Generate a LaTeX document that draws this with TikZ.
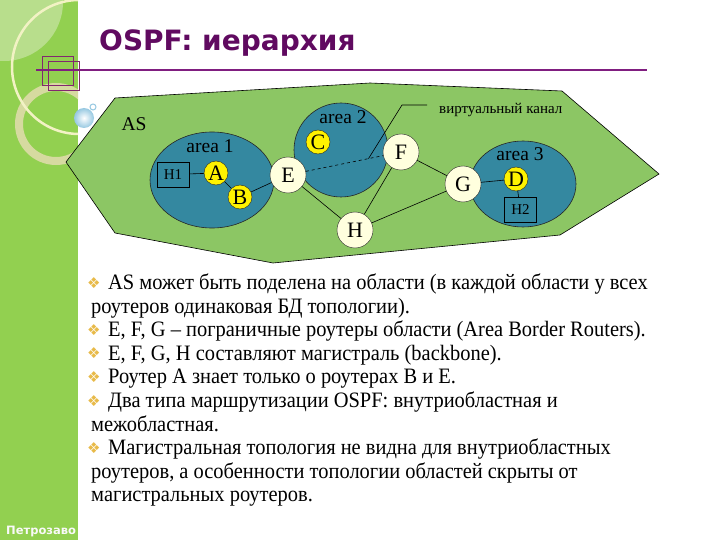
\documentclass[tikz,border=0pt]{standalone}
\usepackage{fontspec}
\setmainfont{Liberation Serif}
\newfontfamily\dejavu{DejaVu Sans}
\newfontfamily\bodyfont[FakeStretch=0.93]{Liberation Serif}
\definecolor{barg}{RGB}{146,208,80}
\definecolor{lightg}{RGB}{184,222,140}
\definecolor{ringc}{RGB}{214,218,160}
\definecolor{circc}{RGB}{242,242,196}
\definecolor{asg}{RGB}{140,198,100}
\definecolor{areac}{RGB}{52,136,160}
\definecolor{paley}{RGB}{255,255,222}
\definecolor{titlec}{RGB}{96,10,96}
\definecolor{purp}{RGB}{128,30,128}
\definecolor{sqc}{RGB}{130,40,110}
\definecolor{bulc}{RGB}{232,186,72}
\definecolor{bubc}{RGB}{150,200,225}
\newcommand\mybul{{\dejavu\color{bulc}\fontsize{15}{15}\selectfont ❖}}
\tikzset{
  rtr/.style={circle, draw=black!85, fill=yellow, minimum size=24pt, inner sep=0pt, font=\fontsize{22}{22}\selectfont},
  brd/.style={circle, draw=black!85, fill=paley, minimum size=36pt, inner sep=0pt, font=\fontsize{22}{22}\selectfont},
  hostbox/.style={rectangle, draw=black, minimum width=32pt, minimum height=25pt, inner sep=0pt, font=\fontsize{15}{15}\selectfont},
  lbl/.style={anchor=base, inner sep=0pt, font=\fontsize{19.5}{20}\selectfont},
  link/.style={draw=black, line width=0.6pt},
  txt/.style={anchor=base west, inner sep=0pt, font=\bodyfont\fontsize{22}{22}\selectfont},
  bul/.style={anchor=base west, inner sep=0pt}
}
\begin{document}
\begin{tikzpicture}[x=1pt,y=-1pt]
\useasboundingbox (0,0) rectangle (720,540);
\fill[white] (0,0) rectangle (720,540);
% left bar with decorations
\fill[barg] (0,0) rectangle (78,540);
\begin{scope}
  \clip (0,0) rectangle (78,540);
  \fill[lightg] (4,2) circle (59);
  \draw[ringc, line width=8pt] (56,124) circle (37);
  \draw[circc, line width=2.5pt] (79,67) circle (67);
  \node[anchor=base west, inner sep=0pt, text=white!95!gray, font=\dejavu\bfseries\fontsize{11.5}{12}\selectfont] (foot) at (6,534) {Петрозаво};
\end{scope}
% title
\node[anchor=base west, inner sep=0pt, text=titlec, font=\dejavu\bfseries\fontsize{28}{30}\selectfont] (title) at (99,51) {OSPF: иерархия};
\draw[purp, line width=2pt] (36,70) -- (647,70);
\draw[sqc, line width=1pt] (42,57) rectangle (73,86);
\draw[sqc, line width=1pt] (48,62) rectangle (79,91);
% bubbles
\draw[bubc, line width=1pt] (93,107) circle (3);
\shade[inner color=white, outer color=bubc] (84,118) circle (10);
% AS polygon
\filldraw[fill=asg, draw=black, line width=0.6pt] (115,98) -- (370,83) -- (562,91) -- (659,174) -- (560,235) -- (273,263) -- (115,233) -- (66,162) -- cycle;
% areas
\filldraw[fill=areac, draw=black!85, line width=0.6pt] (212,180) ellipse [x radius=62, y radius=48];
\filldraw[fill=areac, draw=black!85, line width=0.6pt] (341,150) circle (47);
\filldraw[fill=areac, draw=black!85, line width=0.6pt] (523,184) ellipse [x radius=53, y radius=43];
\node[lbl] (as) at (134,131) {AS};
\node[lbl] (ar1) at (210,153) {area 1};
\node[lbl] (ar2) at (343,124) {area 2};
\node[lbl] (ar3) at (520,161) {area 3};
% routers
\node[hostbox] (h1) at (173,174.5) {H1};
\node[rtr] (A) at (216,173) {A};
\node[rtr] (B) at (240,197) {B};
\node[rtr] (C) at (318,142) {C};
\node[rtr] (D) at (516,179) {D};
\node[hostbox] (h2) at (520.5,210) {H2};
\node[brd] (E) at (288,175) {E};
\node[brd] (F) at (401,152) {F};
\node[brd] (G) at (463,184) {G};
\node[brd] (H) at (355,230) {H};
% links
\draw[link] (h1) -- (A);
\draw[link] (A) -- (B);
\draw[link] (B) -- (E);
\draw[link, dashed] (E) -- coordinate[pos=0.81] (vc) (F);
\draw[link] (E) -- (H);
\draw[link] (F) -- (H);
\draw[link] (F) -- (G);
\draw[link] (G) -- (H);
\draw[link] (G) -- (D);
\draw[link] (D) -- (h2);
% virtual link callout
\coordinate (vk1) at (402,105);
\coordinate (vk2) at (427,105);
\draw[link] (vc) -- (vk1) -- (vk2);
\node[anchor=base west, inner sep=0pt, font=\fontsize{15}{15}\selectfont] (vlab) at (439,114) {виртуальный канал};
% bullet text
\node[bul] (b1) at (87,288) {\mybul};
\node[txt] (t1) at (108,289.5) {AS может быть поделена на области (в каждой области у всех};
\node[txt] (t2) at (91,313.1) {роутеров одинаковая БД топологии).};
\node[bul] (b2) at (87,335.2) {\mybul};
\node[txt] (t3) at (108,336.7) {E, F, G – пограничные роутеры области (Area Border Routers).};
\node[bul] (b3) at (87,358.8) {\mybul};
\node[txt] (t4) at (108,360.3) {E, F, G, H составляют магистраль (backbone).};
\node[bul] (b4) at (87,382.4) {\mybul};
\node[txt] (t5) at (108,383.9) {Роутер A знает только о роутерах B и E.};
\node[bul] (b5) at (87,406) {\mybul};
\node[txt] (t6) at (108,407.5) {Два типа маршрутизации OSPF: внутриобластная и};
\node[txt] (t7) at (91,431.1) {межобластная.};
\node[bul] (b6) at (87,453.2) {\mybul};
\node[txt] (t8) at (108,454.7) {Магистральная топология не видна для внутриобластных};
\node[txt] (t9) at (91,478.3) {роутеров, а особенности топологии областей скрыты от};
\node[txt] (t10) at (91,501.9) {магистральных роутеров.};
\end{tikzpicture}
\end{document}
